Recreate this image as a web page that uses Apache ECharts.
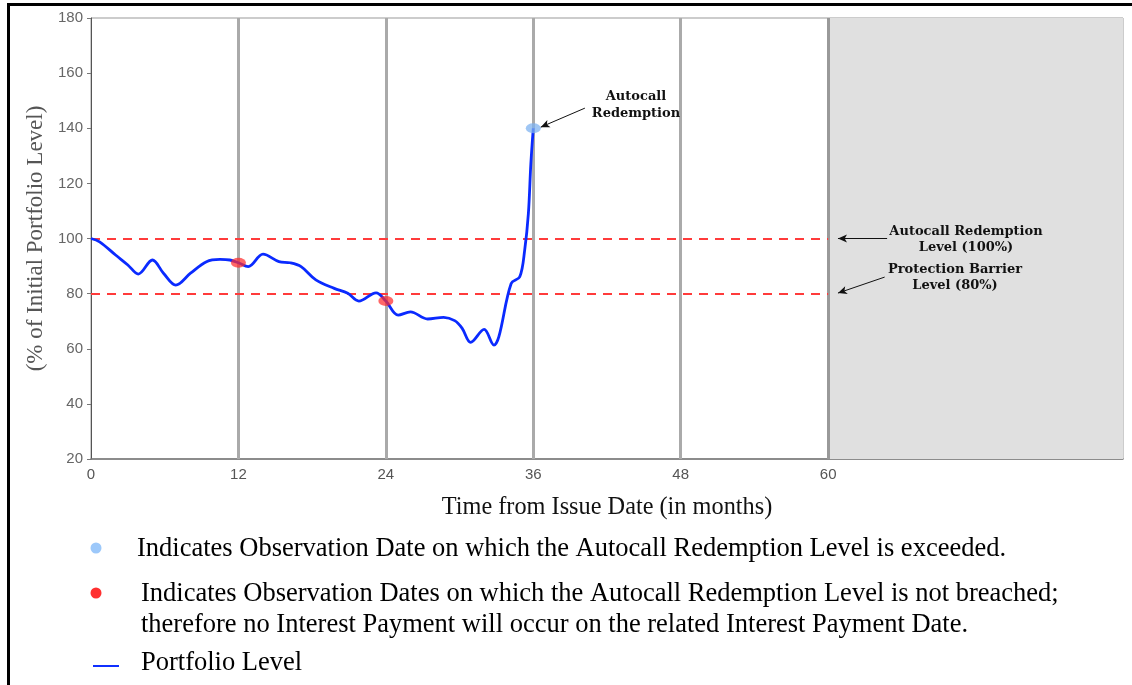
<!DOCTYPE html>
<html>
<head>
<meta charset="utf-8">
<script src="https://cdn.jsdelivr.net/npm/echarts@6/dist/echarts.min.js"></script>
<style>
html,body{margin:0;padding:0;background:#fff;}
#chart{width:1132px;height:685px;}
</style>
</head>
<body>
<div id="chart"></div>
<script>
// ---- Data ----
var months = [0, 0.7, 2, 3, 3.85, 5, 5.9, 6.9, 8.1, 9.4, 10.5, 11.3, 12, 12.8, 14, 15.3, 16.2, 17.1, 18.3, 19.8, 20.9, 21.8, 23.2, 24, 25, 26, 27.4, 28.7, 29.6, 30.2, 30.9, 32, 32.8, 33.2, 34.2, 34.9, 35.3, 35.6, 35.8, 36];
var portfolioLevel = [100, 98.8, 94, 90.4, 87.1, 92.2, 87.4, 83.1, 87.4, 91.6, 92.4, 92.2, 91.2, 89.8, 94.3, 91.6, 91.2, 89.8, 85, 81.9, 80.1, 77.3, 80.3, 77.3, 72.2, 73.4, 70.8, 71.4, 70.2, 67.5, 62.3, 67, 61.3, 64.4, 83.7, 86.1, 95.8, 109, 127, 140];
var observationMonths = [12, 24, 36, 48, 60];
var notBreachedMonths = [12, 24];
var notBreachedValues = [91.2, 77.3];
var autocallMonths = [36];
var autocallValues = [140];
var autocallLevel = 100;
var barrierLevel = 80;
var termEnd = 60;
var axisEnd = 84;
var xTickLabels = ['0', '12', '24', '36', '48', '60'];
var yTicks = [20, 40, 60, 80, 100, 120, 140, 160, 180];

var lineData = months.map(function (m, i) { return [m, portfolioLevel[i]]; });
var redData = notBreachedMonths.map(function (m, i) { return [m, notBreachedValues[i]]; });
var blueData = autocallMonths.map(function (m, i) { return [m, autocallValues[i]]; });

var chart = echarts.init(document.getElementById('chart'), null, { renderer: 'canvas' });

var option = {
  animation: false,
  backgroundColor: '#ffffff',
  grid: { left: 91, top: 18, right: 9, bottom: 226, show: true, borderColor: '#999', borderWidth: 1, backgroundColor: 'transparent' },
  xAxis: {
    type: 'value', min: 0, max: axisEnd, interval: 12,
    name: 'Time from Issue Date (in months)', nameLocation: 'middle', nameGap: 37,
    nameTextStyle: { fontFamily: 'Liberation Serif', fontSize: 24.3, color: '#111' },
    axisLine: { show: true, lineStyle: { color: '#777', width: 1.5 } },
    axisTick: { show: false },
    splitLine: { show: false },
    axisLabel: {
      color: '#555', fontFamily: 'Liberation Sans', fontSize: 15, margin: 8,
      formatter: function (v) { var s = String(v); return xTickLabels.indexOf(s) >= 0 ? s : ''; }
    }
  },
  yAxis: {
    type: 'value', min: 20, max: 180, interval: 20,
    name: '(% of Initial Portfolio Level)', nameLocation: 'middle', nameGap: 39,
    nameTextStyle: { fontFamily: 'Liberation Serif', fontSize: 23, color: '#555' },
    axisLine: { show: true, lineStyle: { color: '#555', width: 1 } },
    axisTick: { show: true, length: 4, lineStyle: { color: '#777' } },
    splitLine: { show: false },
    axisLabel: { color: '#666', fontFamily: 'Liberation Sans', fontSize: 15, margin: 8 }
  },
  series: [
    {
      type: 'line', data: [], silent: true,
      markArea: {
        silent: true,
        itemStyle: { color: '#e0e0e0' },
        data: [[{ xAxis: termEnd }, { xAxis: axisEnd }]]
      },
      markLine: {
        silent: true, symbol: 'none', label: { show: false },
        lineStyle: { color: '#aaaaaa', width: 3, type: 'solid' },
        data: observationMonths.map(function (m) { return { xAxis: m, lineStyle: m === termEnd ? { color: '#999', width: 3, type: 'solid' } : undefined }; })
      },
      z: 1
    },
    {
      type: 'line', data: [], silent: true,
      markLine: {
        silent: true, symbol: 'none', label: { show: false },
        lineStyle: { color: '#ff3b3b', width: 2.2, type: [9, 7] },
        data: [
          [{ coord: [0, autocallLevel] }, { coord: [termEnd, autocallLevel] }],
          [{ coord: [0, barrierLevel] }, { coord: [termEnd, barrierLevel] }]
        ]
      },
      z: 2
    },
    {
      name: 'Portfolio Level', type: 'line', data: lineData, smooth: 0.35,
      showSymbol: false, lineStyle: { color: '#0a2aff', width: 2.8 }, z: 5
    },
    {
      type: 'scatter', data: redData, symbol: 'circle', symbolSize: [15, 10],
      itemStyle: { color: 'rgba(255,45,45,0.9)' }, z: 6
    },
    {
      type: 'scatter', data: blueData, symbol: 'circle', symbolSize: [15, 10],
      itemStyle: { color: 'rgba(125,178,240,0.92)' }, z: 6
    },
    {
      type: 'line', data: [], silent: true,
      markLine: {
        silent: true, symbol: ['none', 'arrow'], symbolSize: [6, 9], label: { show: false },
        lineStyle: { color: '#111', width: 1, type: 'solid' },
        data: [
          [{ coord: [40.2, 147.3] }, { coord: [36.6, 140.4] }],
          [{ coord: [64.8, 100] }, { coord: [60.8, 100] }],
          [{ coord: [64.6, 86.0] }, { coord: [60.8, 80.2] }]
        ]
      },
      z: 7
    }
  ],
  graphic: [
    { type: 'rect', left: 7, top: 3, shape: { width: 1125, height: 3 }, style: { fill: '#000' }, z: 100 },
    { type: 'rect', left: 7, top: 3, shape: { width: 3, height: 682 }, style: { fill: '#000' }, z: 100 },
    { type: 'text', x: 636, y: 105.5, z: 100, style: { text: 'Autocall\nRedemption', textAlign: 'center', textVerticalAlign: 'middle', font: 'bold 13px "DejaVu Serif"', lineHeight: 17, fill: '#111' } },
    { type: 'text', x: 966, y: 239.5, z: 100, style: { text: 'Autocall Redemption\nLevel (100%)', textAlign: 'center', textVerticalAlign: 'middle', font: 'bold 13px "DejaVu Serif"', lineHeight: 16, fill: '#111' } },
    { type: 'text', x: 955, y: 277.5, z: 100, style: { text: 'Protection Barrier\nLevel (80%)', textAlign: 'center', textVerticalAlign: 'middle', font: 'bold 13px "DejaVu Serif"', lineHeight: 16, fill: '#111' } },
    // legend
    { type: 'circle', shape: { cx: 96, cy: 548, r: 5.5 }, style: { fill: '#9cc8fa' }, z: 100 },
    { type: 'text', x: 137, y: 549, z: 100, style: { text: 'Indicates Observation Date on which the Autocall Redemption Level is exceeded.', textVerticalAlign: 'middle', font: '26.5px "Liberation Serif"', fill: '#000' } },
    { type: 'circle', shape: { cx: 96, cy: 593, r: 5.5 }, style: { fill: '#ff3030' }, z: 100 },
    { type: 'text', x: 141, y: 594, z: 100, style: { text: 'Indicates Observation Dates on which the Autocall Redemption Level is not breached;', textVerticalAlign: 'middle', font: '26.5px "Liberation Serif"', fill: '#000' } },
    { type: 'text', x: 141, y: 625, z: 100, style: { text: 'therefore no Interest Payment will occur on the related Interest Payment Date.', textVerticalAlign: 'middle', font: '26.5px "Liberation Serif"', fill: '#000' } },
    { type: 'line', shape: { x1: 93, y1: 666, x2: 119, y2: 666 }, style: { stroke: '#1030ff', lineWidth: 2 }, z: 100 },
    { type: 'text', x: 141, y: 663, z: 100, style: { text: 'Portfolio Level', textVerticalAlign: 'middle', font: '26.5px "Liberation Serif"', fill: '#000' } }
  ]
};
chart.setOption(option);
</script>
</body>
</html>
